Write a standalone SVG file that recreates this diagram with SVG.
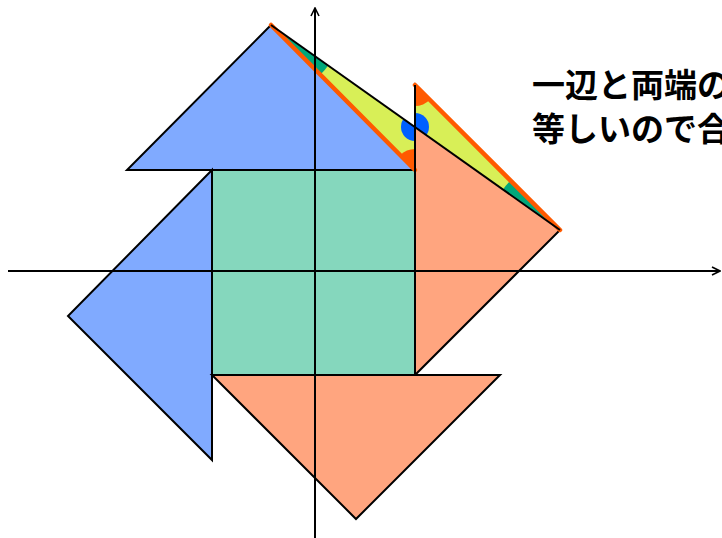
<svg xmlns="http://www.w3.org/2000/svg" width="722" height="538" viewBox="0 0 722 538">
  <style>
    .shape { stroke: #000; stroke-width: 2; stroke-linejoin: miter; }
    .blue { fill: #80AAFF; }
    .green { fill: #85D7BD; }
    .salmon { fill: #FFA57F; }
    .yellow { fill: #D8EF57; }
    .axis { stroke: #000; stroke-width: 2; fill: none; }
    .side { stroke: #FF5A00; stroke-width: 4.5; stroke-linecap: round; fill: none; }
    .label { font-family: "Noto Sans CJK JP", "Noto Sans CJK SC", sans-serif; font-weight: bold; font-size: 33px; fill: #000; }
  </style>
  <defs>
    <marker id="arrow" viewBox="0 0 10 10" refX="9" refY="5" markerWidth="10" markerHeight="10" markerUnits="userSpaceOnUse" orient="auto">
      <path d="M1,1 L9,5 L1,9" fill="none" stroke="#000" stroke-width="1.6"/>
    </marker>
    <clipPath id="clipT1"><polygon points="271,25 415,170 415,127"/></clipPath>
    <clipPath id="clipT2"><polygon points="415,85 560,230 415,127"/></clipPath>
  </defs>

  <g id="triangle-top-blue"><polygon class="shape blue" points="271,25 127,170 415,170"/></g>
  <g id="triangle-left-blue"><polygon class="shape blue" points="212,170 68,316 212,460"/></g>
  <g id="square"><rect class="shape green" x="212" y="170" width="203" height="205"/></g>
  <g id="triangle-right-salmon"><polygon class="shape salmon" points="415,85 560,230 415,375"/></g>
  <g id="triangle-bottom-salmon"><polygon class="shape salmon" points="212,375 500,375 356,519"/></g>

  <g id="congruent-triangle-1" clip-path="url(#clipT1)">
    <polygon class="yellow" points="271,25 415,170 415,127"/>
    <circle cx="271" cy="25" r="70" fill="#00A87A"/>
    <circle cx="415" cy="170" r="21" fill="#FF5A00"/>
    <circle cx="415" cy="127" r="14" fill="#0060FF"/>
  </g>
  <g id="congruent-triangle-2" clip-path="url(#clipT2)">
    <polygon class="yellow" points="415,85 560,230 415,127"/>
    <circle cx="560" cy="230" r="70" fill="#00A87A"/>
    <circle cx="415" cy="85" r="21" fill="#FF5A00"/>
    <circle cx="415" cy="127" r="14" fill="#0060FF"/>
  </g>

  <g id="equal-sides">
    <line class="side" x1="271" y1="25" x2="415" y2="170"/>
    <line class="side" x1="415" y1="85" x2="560" y2="230"/>
  </g>
  <g id="connectors">
    <line class="axis" x1="271" y1="25" x2="560" y2="230"/>
    <line class="axis" x1="415" y1="85" x2="415" y2="375"/>
    <line class="axis" x1="8" y1="271" x2="720" y2="271" marker-end="url(#arrow)"/>
    <line class="axis" x1="315" y1="538" x2="315" y2="8" marker-end="url(#arrow)"/>
  </g>

  <g id="caption">
    <text class="label" x="532" y="97">一辺と両端の</text>
    <text class="label" x="532" y="141">等しいので合</text>
  </g>
</svg>
